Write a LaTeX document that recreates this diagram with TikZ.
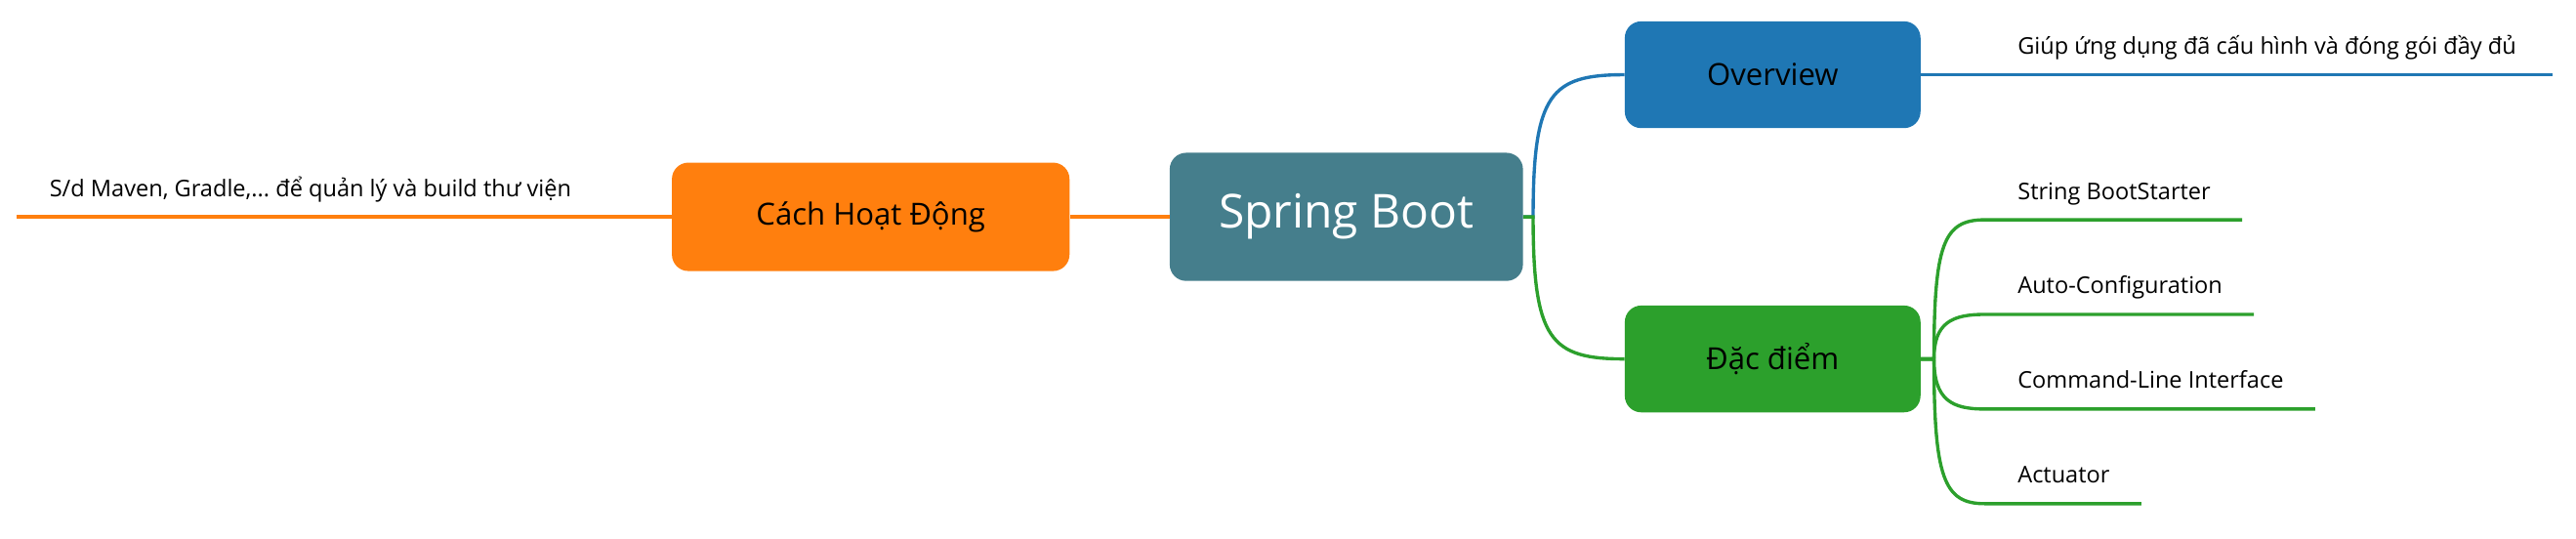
\documentclass[tikz,border=0pt]{standalone}
\usepackage{fontspec}
\setmainfont{Open Sans}
\usepackage{tikz}
\usetikzlibrary{positioning}
\frenchspacing
\definecolor{rootcol}{RGB}{69,126,140}
\definecolor{orangecol}{RGB}{255,127,14}
\definecolor{bluecol}{RGB}{31,119,180}
\definecolor{greencol}{RGB}{44,160,44}
\tikzstyle{root} = [rectangle, rounded corners=10pt, minimum width=215pt, minimum height=78pt, inner sep=0pt, fill=rootcol, text=white, font=\fontsize{28.5}{32}\selectfont]
\tikzstyle{topic} = [rectangle, rounded corners=10pt, minimum width=180pt, minimum height=65pt, inner sep=0pt, font=\fontsize{18.5}{22}\selectfont]
\tikzstyle{leaf} = [inner sep=0pt, anchor=base west, font=\fontsize{14}{17}\selectfont]
\tikzstyle{branch} = [line width=2pt]

\begin{document}
\begin{tikzpicture}[x=1pt, y=1pt]
\useasboundingbox (0,0) rectangle (1568,-328);

%% NODES
\node (spring) [root] at (819.5,-132) {Spring Boot};
\node (howit) [topic, fill=orangecol, minimum width=242pt, minimum height=66pt] at (530,-132) {Cách Hoạt Động};
\node (overview) [topic, fill=bluecol] at (1079,-45.5) {Overview};
\node (feature) [topic, fill=greencol] at (1079,-218.5) {Đặc điểm};
\node (maven) [leaf] at (30,-120) {S/d Maven, Gradle,... để quản lý và build thư viện};
\node (package) [leaf] at (1228,-33) {Giúp ứng dụng đã cấu hình và đóng gói đầy đủ};
\node (starter) [leaf] at (1228,-121.3) {String BootStarter};
\node (autoconf) [leaf] at (1228,-178.9) {Auto-Configuration};
\node (cli) [leaf] at (1228,-236.5) {Command-Line Interface};
\node (actuator) [leaf] at (1228,-294.1) {Actuator};

%% BRANCHES
\draw [branch, orangecol] (spring.west) -- (howit.east);
\draw [branch, orangecol] (howit.west) -- ([shift={(-20pt,-12pt)}]maven.base west);
\draw [branch, bluecol] (spring.east) -- ++(6,0) .. controls +(0,75) and +(-45,0) .. (overview.west);
\draw [branch, greencol] (spring.east) -- ++(6,0) .. controls +(0,-75) and +(-45,0) .. (feature.west);
\draw [branch, bluecol] (overview.east) -- ([shift={(22pt,-12.5pt)}]package.base east);
\draw [branch, greencol] (feature.east) -- ++(8,0) .. controls +(0,70) and +(-25,0) .. ([shift={(-20pt,-12.5pt)}]starter.base west) -- ([shift={(19pt,-12.5pt)}]starter.base east);
\draw [branch, greencol] (feature.east) -- ++(8,0) .. controls +(0,22) and +(-20,0) .. ([shift={(-20pt,-12.5pt)}]autoconf.base west) -- ([shift={(19pt,-12.5pt)}]autoconf.base east);
\draw [branch, greencol] (feature.east) -- ++(8,0) .. controls +(0,-25) and +(-20,0) .. ([shift={(-20pt,-12.5pt)}]cli.base west) -- ([shift={(19pt,-12.5pt)}]cli.base east);
\draw [branch, greencol] (feature.east) -- ++(8,0) .. controls +(0,-72) and +(-25,0) .. ([shift={(-20pt,-12.5pt)}]actuator.base west) -- ([shift={(19pt,-12.5pt)}]actuator.base east);
\end{tikzpicture}
\end{document}
